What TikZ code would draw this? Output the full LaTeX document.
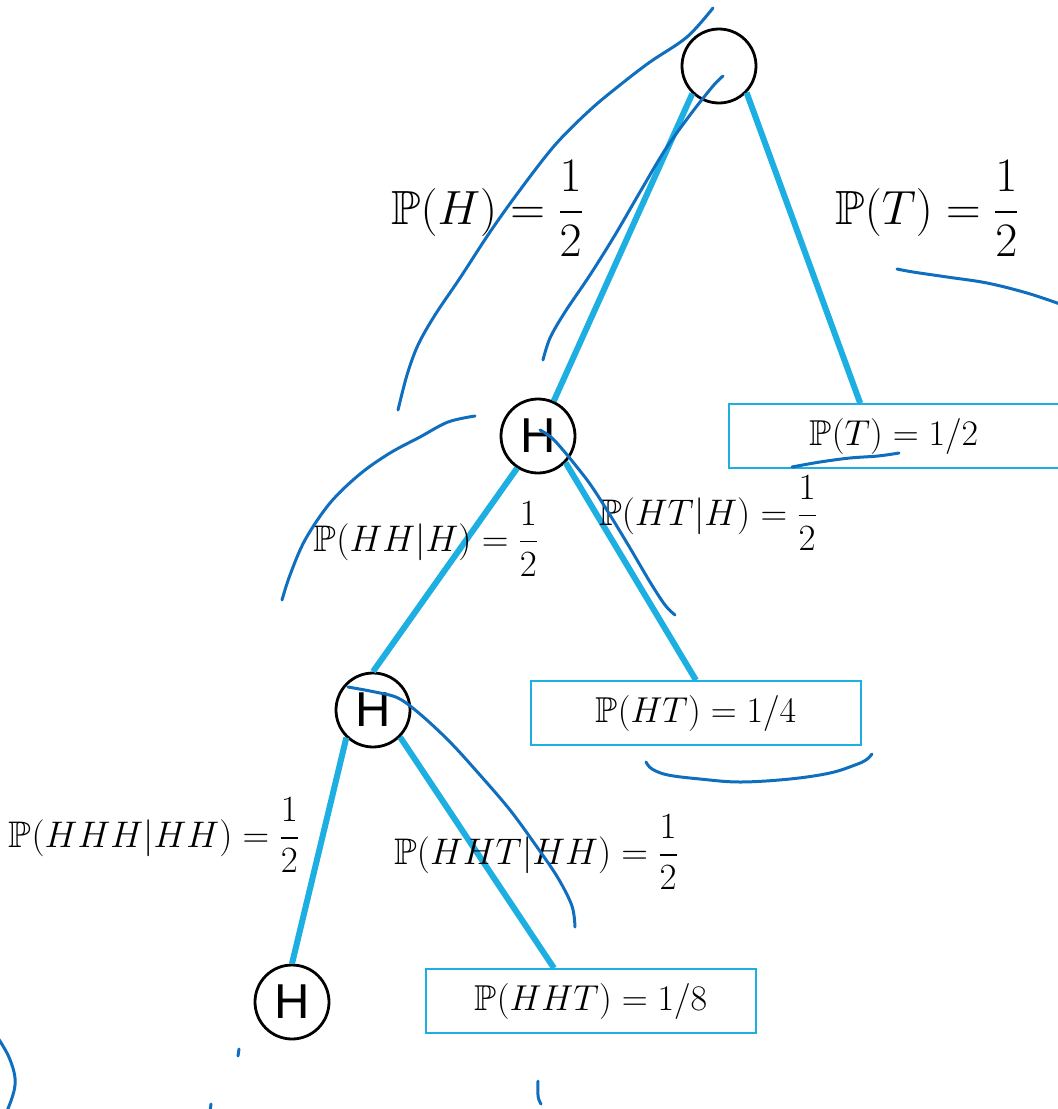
\RequirePackage{fix-cm}
\documentclass[tikz,border=0pt]{standalone}
\usepackage{amssymb}
\usepackage{fontspec}
\newfontfamily\hfont{Liberation Sans}
\usetikzlibrary{calc}
\definecolor{edgeblue}{RGB}{29,174,226}
\definecolor{penblue}{RGB}{16,110,190}
\tikzset{
 coin/.style={circle, draw=black, line width=2.8pt, minimum size=74pt, inner sep=0pt, font={\hfont\fontsize{49}{50}\selectfont}},
 probbox/.style={rectangle, draw=edgeblue, line width=1.6pt, minimum width=330pt, minimum height=64pt, inner sep=0pt, font=\fontsize{36}{40}\selectfont},
 branch/.style={edgeblue, line width=6pt},
 pen/.style={penblue, line width=3pt, line cap=round, line join=round},
 biglab/.style={anchor=base, inner sep=0pt, font=\fontsize{48}{50}\selectfont},
 midlab/.style={anchor=base, inner sep=0pt, font=\fontsize{37}{40}\selectfont},
}
\begin{document}
\begin{tikzpicture}[x=1pt,y=-1pt]
\useasboundingbox (0,0) rectangle (1058,1109);
% nodes
\node[coin] (root) at (719,66) {};
\node[coin] (H1) at (538,436) {H};
\node[coin] (H2) at (373,710) {H};
\node[coin] (H3) at (292,1002) {H};
\node[probbox] (Tbox) at (894,436) {$\mathbb{P}(T) = 1/2$};
\node[probbox] (HTbox) at (696,713) {$\mathbb{P}(HT) = 1/4$};
\node[probbox] (HHTbox) at (591,1001) {$\mathbb{P}(HHT) = 1/8$};
% branches
\draw[branch] (root.-134) -- (H1);
\draw[branch] (root.-44) -- ([xshift=132pt]Tbox.north west);
\draw[branch] (H1.-123) -- (H2.north);
\draw[branch] (H1.-44) -- (HTbox.north);
\draw[branch] (H2.-134) -- (H3.north);
\draw[branch] (H2.-45) -- ([xshift=-37pt]HHTbox.north);
% labels
\node[biglab] (lH) at (487,224) {$\displaystyle \mathbb{P}(H) = \frac{1}{2}$};
\node[biglab] (lT) at (927,224) {$\displaystyle \mathbb{P}(T) = \frac{1}{2}$};
\node[midlab] (lHH) at (426,551) {$\displaystyle \mathbb{P}(HH|H) = \frac{1}{2}$};
\node[midlab] (lHT) at (708,525) {$\displaystyle \mathbb{P}(HT|H) = \frac{1}{2}$};
\node[midlab] (lHHH) at (154,847) {$\displaystyle \mathbb{P}(HHH|HH) = \frac{1}{2}$};
\node[midlab] (lHHT) at (536,864) {$\displaystyle \mathbb{P}(HHT|HH) = \frac{1}{2}$};
% pen strokes
\draw[pen] plot[smooth, tension=0.55] coordinates {(713,8) (687,37) (650,62) (620,85) (590,110) (555,145) (520,190) (490,232) (460,278) (435,315) (418,345) (407,375) (398,410)};
\draw[pen] plot[smooth, tension=0.55] coordinates {(723,76) (713,86) (690,115) (665,150) (640,192) (615,235) (590,275) (565,312) (550,338) (543,360)};
\draw[pen] plot[smooth, tension=0.55] coordinates {(475,416) (448,422) (420,437) (390,453) (360,474) (330,503) (305,540) (290,575) (282,600)};
\draw[pen] plot[smooth, tension=0.55] coordinates {(540,430) (552,438) (568,456) (590,484) (610,515) (630,548) (650,582) (665,605) (675,615)};
\draw[pen] plot[smooth, tension=0.6] coordinates {(792,467) (820,462) (850,458) (878,456) (899,453)};
\draw[pen] plot[smooth, tension=0.6] coordinates {(897,269) (913,272) (947,277) (987,283) (1027,293) (1060,304)};
\draw[pen] plot[smooth, tension=0.55] coordinates {(348,687) (375,692) (398,698) (420,714) (450,742) (480,775) (510,810) (537,847) (558,878) (572,906) (575,927)};
\draw[pen] plot[smooth, tension=0.6] coordinates {(646,762) (652,769) (668,775) (700,779) (740,782) (790,779) (830,773) (855,765) (866,760) (872,754)};
\draw[pen] plot[smooth, tension=0.6] coordinates {(-2,1038) (8,1055) (14,1072) (15,1085) (12,1098) (7,1111)};
\draw[pen] (239,1049) -- (238,1056);
\draw[pen] (211,1104) -- (210,1112);
\draw[pen] plot[smooth, tension=0.6] coordinates {(538,1081) (538,1095) (539,1100) (541,1104)};
\end{tikzpicture}
\end{document}
